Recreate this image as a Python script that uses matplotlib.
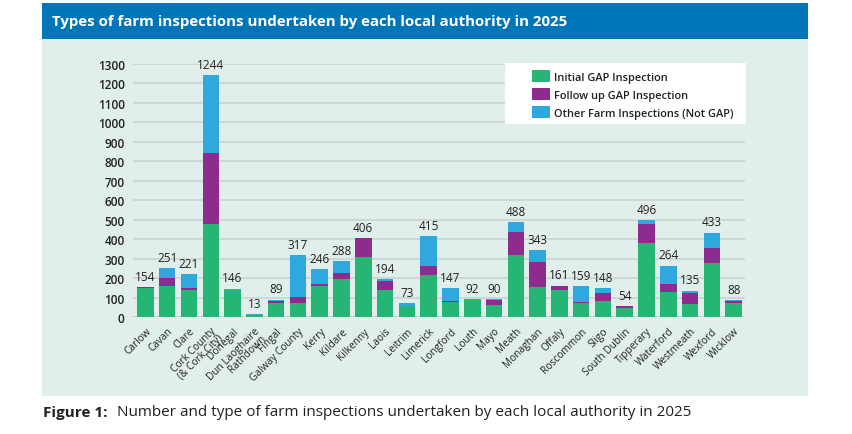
import matplotlib
matplotlib.use("Agg")
import matplotlib.pyplot as plt
from matplotlib.patches import Rectangle, Patch
import numpy as np

categories = ["Carlow", "Cavan", "Clare", "Cork County\n(& Cork City)", "Donegal",
              "Dun Laoghaire\nRathdown", "Fingal", "Galway County", "Kerry", "Kildare",
              "Kilkenny", "Laois", "Leitrim", "Limerick", "Longford", "Louth", "Mayo",
              "Meath", "Monaghan", "Offaly", "Roscommon", "Sligo", "South Dublin",
              "Tipperary", "Waterford", "Westmeath", "Wexford", "Wicklow"]
initial_gap = [150, 161, 140, 479, 141, 11, 74, 74, 161, 197, 310, 137, 58, 217, 79, 89, 63,
               320, 156, 140, 74, 84, 44, 382, 130, 68, 279, 74]
followup_gap = [4, 41, 10, 365, 0, 0, 10, 30, 10, 30, 96, 50, 0, 46, 4, 0, 22,
                118, 127, 21, 4, 41, 10, 98, 41, 57, 77, 10]
other_insp = [0, 49, 71, 400, 5, 2, 5, 213, 75, 61, 0, 7, 15, 152, 64, 3, 5,
              50, 60, 0, 81, 23, 0, 16, 93, 10, 77, 4]
totals = [154, 251, 221, 1244, 146, 13, 89, 317, 246, 288, 406, 194, 73, 415, 147, 92, 90,
          488, 343, 161, 159, 148, 54, 496, 264, 135, 433, 88]
series_names = ["Initial GAP Inspection", "Follow up GAP Inspection",
                "Other Farm Inspections (Not GAP)"]
yticks = list(range(0, 1301, 100))

GREEN = "#25b574"
PURPLE = "#8d2b8f"
BLUE = "#2ea8df"
PANEL = "#e0efeb"
HEADER = "#0075b8"
TXT = "#231f20"

plt.rcParams['font.family'] = ['Open Sans', 'DejaVu Sans']

W, H = 852, 435
fig = plt.figure(figsize=(W / 100, H / 100), dpi=100)
fig.patch.set_facecolor("white")

def fx(px):
    return px / W

def fy(py):
    return 1 - py / H

# panel and header
fig.patches.append(Rectangle((fx(42), fy(397)), fx(808) - fx(42), fy(40) - fy(397),
                             transform=fig.transFigure, facecolor=PANEL, edgecolor="none", zorder=0))
fig.patches.append(Rectangle((fx(42), fy(40)), fx(808) - fx(42), fy(4) - fy(40),
                             transform=fig.transFigure, facecolor=HEADER, edgecolor="none", zorder=0))
fig.text(fx(52), fy(22), "Types of farm inspections undertaken by each local authority in 2025",
         color="white", fontsize=10.8, fontweight="bold", va="center", ha="left")

# axes
ax = fig.add_axes([fx(133), fy(318), fx(745) - fx(133), fy(65) - fy(318)])
ax.set_zorder(2)
ax.set_facecolor("none")
x = np.arange(len(categories))
g = np.array(initial_gap)
p = np.array(followup_gap)
o = np.array(other_insp)
bw = 0.76
ax.bar(x, g, width=bw, color=GREEN, zorder=3)
ax.bar(x, p, width=bw, bottom=g, color=PURPLE, zorder=3)
ax.bar(x, o, width=bw, bottom=g + p, color=BLUE, zorder=3)

for xi, (tot, top) in enumerate(zip(totals, g + p + o)):
    ax.text(xi, top + 22, str(tot), ha="center", va="bottom", fontsize=8.5, color=TXT,
            clip_on=False)

ax.set_xlim(-0.57, len(categories) - 0.48)
ax.set_ylim(0, 1300)
ax.set_yticks(yticks)
ax.set_yticklabels([str(t) for t in yticks], fontsize=8.5, fontweight="semibold", color=TXT)
ax.grid(axis="y", color="#cdd5d3", linewidth=1.3, zorder=0)
ax.set_axisbelow(True)
ax.tick_params(axis="y", length=0, pad=6)
ax.tick_params(axis="x", length=0, pad=6)
ax.set_xticks(x)
ax.set_xticklabels(categories, rotation=45, ha="right", rotation_mode="anchor",
                   fontsize=7.3, color=TXT, linespacing=0.78, multialignment="right")
for s in ax.spines.values():
    s.set_visible(False)
ax.axhline(0, color="#c9cfcd", linewidth=2, zorder=2)

# legend box (above gridlines)
box = Rectangle((fx(505), fy(125)), fx(746) - fx(505), fy(64) - fy(125),
                transform=fig.transFigure, facecolor="white", edgecolor="none",
                zorder=4, clip_on=False)
ax.add_patch(box)
handles = [Patch(facecolor=c, edgecolor="none") for c in (GREEN, PURPLE, BLUE)]
leg = ax.legend(handles, series_names, loc="upper left", bbox_to_anchor=(fx(532), fy(71)),
                bbox_transform=fig.transFigure, frameon=False, fontsize=7.9,
                handlelength=1.6, handleheight=1.3, handletextpad=0.45, labelspacing=0.48,
                borderaxespad=0, borderpad=0)
for t in leg.get_texts():
    t.set_fontweight("semibold")
    t.set_color(TXT)
leg.set_zorder(5)

# caption
fig.text(fx(43), fy(413), "Figure 1:", fontsize=11, fontweight="bold", color=TXT,
         va="center", ha="left")
fig.text(fx(117), fy(413), "Number and type of farm inspections undertaken by each local authority in 2025",
         fontsize=11, color=TXT, va="center", ha="left")

fig.savefig("out.png", dpi=100, facecolor="white")
